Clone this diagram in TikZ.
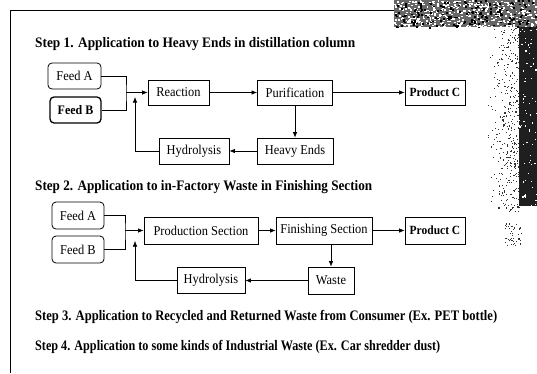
\documentclass[tikz,border=0pt]{standalone}
\usepackage{fontspec}
\setmainfont{Liberation Serif}
\newfontfamily\boxfont[FakeStretch=0.92]{Liberation Serif}
\usetikzlibrary{arrows.meta}
% bold heading squeezed to a given width, keeping its height
\newcommand{\headline}[2]{\resizebox{#1}{\height}{\bfseries\fontsize{14.5}{16}\selectfont #2}}
\begin{document}
\begin{tikzpicture}[x=1pt,y=-1pt,
  box/.style={draw, line width=0.8pt, inner sep=0pt,
    font=\boxfont\fontsize{13.5}{14}\selectfont},
  feed/.style={box, rounded corners=4pt},
  title/.style={anchor=west, inner sep=0pt},
  link/.style={line width=0.7pt},
  flow/.style={line width=0.7pt, -{Latex[length=5.5pt,width=4.5pt]}}]
\useasboundingbox (0,0) rectangle (537,373);

% page frame
\draw[line width=1pt] (10,373) -- (10,10) -- (394,10);

% scanned edge speckle
\pgfmathsetseed{7}
\fill[black!60] (394,0) rectangle (537,27);
\fill[black!88] (519,27) rectangle (537,206);
\foreach \i in {1,...,450}{
  \pgfmathsetmacro\px{394+143*rnd}
  \pgfmathsetmacro\py{27*rnd}
  \fill[white] (\px,\py) rectangle ++(1.8,1.4);
}
\foreach \i in {1,...,200}{
  \pgfmathsetmacro\px{394+143*rnd}
  \pgfmathsetmacro\py{27*rnd}
  \fill[black] (\px,\py) rectangle ++(2,1.6);
}
\foreach \i in {1,...,380}{
  \pgfmathsetmacro\px{486+33*rnd^0.5}
  \pgfmathsetmacro\py{27+184*rnd}
  \fill[black!80] (\px,\py) rectangle ++(1.1,1.1);
}
\foreach \i in {1,...,70}{
  \pgfmathsetmacro\px{519+18*rnd}
  \pgfmathsetmacro\py{27+179*rnd}
  \fill[white] (\px,\py) rectangle ++(1.2,1.2);
}
\foreach \i in {1,...,45}{
  \pgfmathsetmacro\px{505+16*rnd}
  \pgfmathsetmacro\py{222+24*rnd}
  \fill[black!80] (\px,\py) rectangle ++(1.1,1.1);
}

% Step 1
\node[title] (t1) at (35,44) {\headline{320pt}{Step 1. Application to Heavy Ends in distillation column}};
\node[feed, minimum width=53, minimum height=26] (fa1) at (74.5,76) {Feed A};
\node[feed, line width=1.3pt, minimum width=51, minimum height=26,
  font=\boxfont\bfseries\fontsize{13}{14}\selectfont] (fb1) at (75.5,110) {Feed B};
\node[box, minimum width=61, minimum height=25] (re1) at (178.5,92.5) {Reaction};
\node[box, minimum width=75, minimum height=25] (pu1) at (295,92.5) {Purification};
\node[box, minimum width=60, minimum height=25,
  font=\boxfont\bfseries\fontsize{12.5}{14}\selectfont] (pc1) at (435,92.5) {Product C};
\node[box, minimum width=76, minimum height=26] (he1) at (295,151) {Heavy Ends};
\node[box, minimum width=70, minimum height=26] (hy1) at (194,151) {Hydrolysis};
\coordinate (j1) at (126,92.5);
\coordinate (r1) at (135,97);

\draw[link] (fa1.east) -| (j1) |- (fb1.east);
\draw[flow] (j1) -- (re1.west);
\draw[flow] (re1.east) -- (pu1.west);
\draw[flow] (pu1.east) -- (pc1.west);
\draw[flow] (pu1.south) -- (he1.north);
\draw[flow] (he1.west) -- (hy1.east);
\draw[flow] (hy1.west) -| (r1);

% Step 2
\node[title] (t2) at (35,187) {\headline{337pt}{Step 2. Application to in-Factory Waste in Finishing Section}};
\node[feed, minimum width=52, minimum height=27] (fa2) at (78,215.5) {Feed A};
\node[feed, minimum width=52, minimum height=27] (fb2) at (78,249.5) {Feed B};
\node[box, minimum width=114, minimum height=27] (ps2) at (201,230.5) {Production Section};
\node[box, minimum width=96, minimum height=27] (fs2) at (324,230.5) {Finishing Section};
\node[box, minimum width=60, minimum height=27,
  font=\boxfont\bfseries\fontsize{12.5}{14}\selectfont] (pc2) at (435,230.5) {Product C};
\node[box, minimum width=46, minimum height=27] (wa2) at (331,280.5) {Waste};
\node[box, minimum width=68, minimum height=26] (hy2) at (211,280.5) {Hydrolysis};
\coordinate (j2) at (125,230.5);
\coordinate (r2) at (135,241);

\draw[link] (fa2.east) -| (j2) |- (fb2.east);
\draw[flow] (j2) -- (ps2.west);
\draw[flow] (ps2.east) -- (fs2.west);
\draw[flow] (fs2.east) -- (pc2.west);
\draw[flow] (wa2.north |- fs2.south) -- (wa2.north);
\draw[flow] (wa2.west) -- (hy2.east);
\draw[flow, line width=0.5pt] (hy2.west) -| (r2);

% Steps 3 and 4
\node[title] (t3) at (35,317) {\headline{462pt}{Step 3. Application to Recycled and Returned Waste from Consumer (Ex. PET bottle)}};
\node[title] (t4) at (35,347) {\headline{405pt}{Step 4. Application to some kinds of Industrial Waste (Ex. Car shredder dust)}};
\end{tikzpicture}
\end{document}
